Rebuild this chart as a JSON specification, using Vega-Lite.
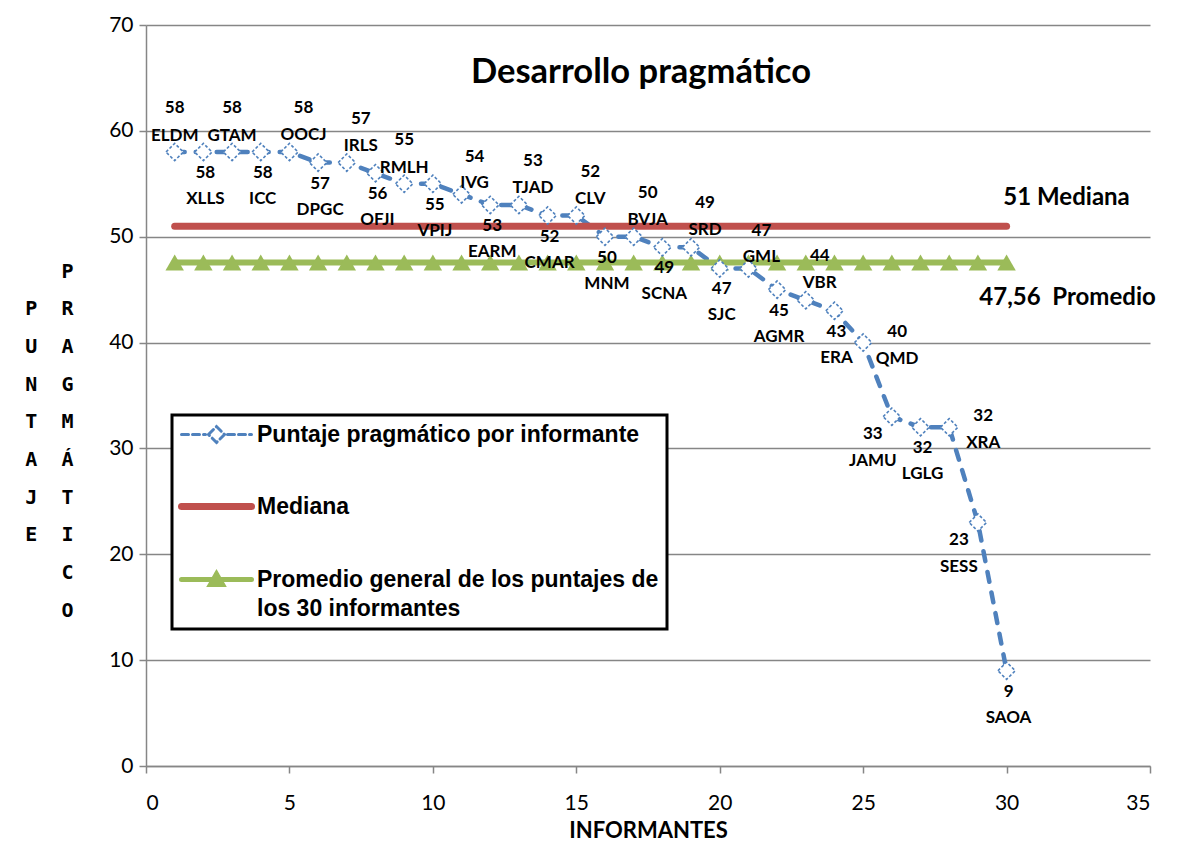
{
  "$schema": "https://vega.github.io/schema/vega-lite/v6.json",
  "width": 1004,
  "height": 741,
  "autosize": {"type": "none"},
  "padding": {"left": 146, "top": 25, "right": 31, "bottom": 88},
  "background": "white",
  "config": {"view": {"stroke": null}, "font": "Lato"},
  "title": {
    "text": "Desarrollo pragmático",
    "anchor": "middle",
    "frame": "group",
    "font": "Lato",
    "fontSize": 34.5,
    "fontWeight": "bold",
    "color": "black",
    "baseline": "alphabetic",
    "offset": -59,
    "dx": -7,
    "dy": 44
  },
  "datasets": {
    "informantes": [
      {"i": 1, "puntaje": 58, "nombre": "ELDM", "lado": "arriba"},
      {"i": 2, "puntaje": 58, "nombre": "XLLS", "lado": "abajo"},
      {"i": 3, "puntaje": 58, "nombre": "GTAM", "lado": "arriba"},
      {"i": 4, "puntaje": 58, "nombre": "ICC", "lado": "abajo"},
      {"i": 5, "puntaje": 58, "nombre": "OOCJ", "lado": "arribader"},
      {"i": 6, "puntaje": 57, "nombre": "DPGC", "lado": "abajo"},
      {"i": 7, "puntaje": 57, "nombre": "IRLS", "lado": "arribader"},
      {"i": 8, "puntaje": 56, "nombre": "OFJI", "lado": "abajo"},
      {"i": 9, "puntaje": 55, "nombre": "RMLH", "lado": "arriba"},
      {"i": 10, "puntaje": 55, "nombre": "VPIJ", "lado": "abajo"},
      {"i": 11, "puntaje": 54, "nombre": "IVG", "lado": "arribacerca"},
      {"i": 12, "puntaje": 53, "nombre": "EARM", "lado": "abajo"},
      {"i": 13, "puntaje": 53, "nombre": "TJAD", "lado": "arribader"},
      {"i": 14, "puntaje": 52, "nombre": "CMAR", "lado": "abajo"},
      {"i": 15, "puntaje": 52, "nombre": "CLV", "lado": "arribader"},
      {"i": 16, "puntaje": 50, "nombre": "MNM", "lado": "abajo"},
      {"i": 17, "puntaje": 50, "nombre": "BVJA", "lado": "arribader"},
      {"i": 18, "puntaje": 49, "nombre": "SCNA", "lado": "abajo"},
      {"i": 19, "puntaje": 49, "nombre": "SRD", "lado": "arribader"},
      {"i": 20, "puntaje": 47, "nombre": "SJC", "lado": "abajo"},
      {"i": 21, "puntaje": 47, "nombre": "GML", "lado": "arribacerca"},
      {"i": 22, "puntaje": 45, "nombre": "AGMR", "lado": "abajo"},
      {"i": 23, "puntaje": 44, "nombre": "VBR", "lado": "arribader"},
      {"i": 24, "puntaje": 43, "nombre": "ERA", "lado": "abajo"},
      {"i": 25, "puntaje": 40, "nombre": "QMD", "lado": "derecha"},
      {"i": 26, "puntaje": 33, "nombre": "JAMU", "lado": "abajoizq"},
      {"i": 27, "puntaje": 32, "nombre": "LGLG", "lado": "abajo"},
      {"i": 28, "puntaje": 32, "nombre": "XRA", "lado": "derecha"},
      {"i": 29, "puntaje": 23, "nombre": "SESS", "lado": "abajoizq"},
      {"i": 30, "puntaje": 9, "nombre": "SAOA", "lado": "abajo"}
    ],
    "notas": [
      {"nota": "51 Mediana", "valor": 51, "informante": 30, "tipo": "mediana"},
      {"nota": "47,56\u00a0 Promedio", "valor": 47.56, "informante": 30, "tipo": "promedio"}
    ]
  },
  "encoding": {
    "x": {
      "field": "i",
      "type": "quantitative",
      "scale": {"domain": [0, 35], "nice": false, "zero": false},
      "axis": {
        "values": [0, 5, 10, 15, 20, 25, 30, 35],
        "grid": false,
        "domainColor": "#868686",
        "domainWidth": 1.5,
        "tickColor": "#868686",
        "tickWidth": 1.5,
        "tickSize": 7,
        "labelFont": "Lato",
        "labelFontSize": 21,
        "labelColor": "black",
        "labelPadding": 19,
        "title": "INFORMANTES",
        "titleFont": "Lato",
        "titleFontSize": 22,
        "titleFontWeight": "bold",
        "titleColor": "black",
        "titlePadding": 7
      }
    },
    "y": {
      "field": "puntaje",
      "type": "quantitative",
      "scale": {"domain": [0, 70], "nice": false},
      "axis": {
        "values": [0, 10, 20, 30, 40, 50, 60, 70],
        "grid": true,
        "gridColor": "#868686",
        "gridWidth": 1.5,
        "domainColor": "#868686",
        "domainWidth": 1.5,
        "tickColor": "#868686",
        "tickWidth": 1.5,
        "tickSize": 7,
        "labelFont": "Lato",
        "labelFontSize": 21,
        "labelColor": "black",
        "labelPadding": 6,
        "title": ["P", "P\u00a0\u00a0R", "U\u00a0\u00a0A", "N\u00a0\u00a0G", "T\u00a0\u00a0M", "A\u00a0\u00a0Á", "J\u00a0\u00a0T", "E\u00a0\u00a0I", "C", "O"],
        "titleFont": "DejaVu Sans Mono",
        "titleFontSize": 20,
        "titleFontWeight": "bold",
        "titleColor": "black",
        "titleAngle": 0,
        "titleAlign": "right",
        "titleBaseline": "top",
        "titleLineHeight": 37.7,
        "titleX": -73,
        "titleY": 236
      }
    }
  },
  "layer": [
    {
      "data": {"name": "informantes"},
      "mark": {"type": "line", "strokeWidth": 4.5, "strokeDash": [10, 11], "strokeCap": "round"},
      "encoding": {
        "color": {
          "datum": "Puntaje pragmático por informante",
          "type": "nominal",
          "scale": {
            "domain": ["Puntaje pragmático por informante", "Mediana", "Promedio general de los puntajes de los 30 informantes"],
            "range": ["#4F81BD", "#C0504D", "#9BBB59"]
          },
          "legend": {
            "orient": "none",
            "legendX": 26,
            "legendY": 390,
            "title": null,
            "padding": 8,
            "strokeColor": "black",
            "fillColor": "white",
            "symbolSize": 400,
            "symbolOffset": 25,
            "labelOffset": 29,
            "labelFont": "Liberation Sans",
            "labelFontWeight": "bold",
            "labelFontSize": 23,
            "labelColor": "black",
            "labelLimit": 700,
            "rowPadding": 43,
            "labelExpr": "datum.label == 'Promedio general de los puntajes de los 30 informantes' ? ['Promedio general de los puntajes de', 'los 30 informantes'] : datum.label",
            "encode": {
              "legend": {"update": {"strokeWidth": {"value": 3}}},
              "symbols": {
                "update": {
                  "shape": {"signal": "datum.value === 'Mediana' ? 'M-3.5,0H3.5' : datum.value === 'Puntaje pragmático por informante' ? 'M-3.5,0H-1.1M-0.8,0L0,-0.8L0.8,0L0,0.8ZM1.1,0H3.5' : 'M-3.5,0H3.5M-0.6,0.5L0,-0.55L0.6,0.5Z'"},
                  "fill": {"signal": "datum.value === 'Puntaje pragmático por informante' ? 'white' : datum.value === 'Mediana' ? 'transparent' : '#9BBB59'"},
                  "fillOpacity": {"signal": "datum.value === 'Puntaje pragmático por informante' ? 0 : 1"},
                  "stroke": {"signal": "datum.value === 'Mediana' ? '#C0504D' : datum.value === 'Puntaje pragmático por informante' ? '#4F81BD' : '#9BBB59'"},
                  "strokeWidth": {"signal": "datum.value === 'Mediana' ? 7 : datum.value === 'Puntaje pragmático por informante' ? 3 : 5"},
                  "strokeDash": {"signal": "datum.value === 'Puntaje pragmático por informante' ? [7, 4] : [1, 0]"},
                  "strokeCap": {"value": "round"},
                  "opacity": {"value": 1}
                }
              },
              "labels": {
                "update": {
                  "lineHeight": {"value": 29}
                }
              }
            }
          }
        }
      }
    },
    {
      "data": {"name": "informantes"},
      "transform": [{"joinaggregate": [{"op": "median", "field": "puntaje", "as": "mediana"}]}],
      "mark": {"type": "line", "strokeWidth": 7, "strokeCap": "round"},
      "encoding": {
        "y": {"field": "mediana", "type": "quantitative"},
        "color": {"datum": "Mediana", "type": "nominal"}
      }
    },
    {
      "data": {"name": "informantes"},
      "transform": [{"joinaggregate": [{"op": "mean", "field": "puntaje", "as": "promedio"}]}],
      "mark": {"type": "line", "strokeWidth": 6, "point": {"shape": "triangle-up", "size": 340, "filled": true, "color": "#9BBB59", "opacity": 1}},
      "encoding": {
        "y": {"field": "promedio", "type": "quantitative"},
        "color": {"datum": "Promedio general de los puntajes de los 30 informantes", "type": "nominal"}
      }
    },
    {
      "data": {"name": "informantes"},
      "mark": {"type": "point", "shape": "diamond", "size": 300, "filled": true, "fill": "white", "stroke": "#4F81BD", "strokeWidth": 1.6, "strokeDash": [3, 2], "opacity": 1}
    },
    {
      "data": {"name": "informantes"},
      "transform": [{"filter": "datum.lado === 'arriba'"}],
      "layer": [
        {"mark": {"type": "text", "font": "Lato", "fontSize": 17, "fontWeight": "bold", "color": "black", "dy": -44}, "encoding": {"text": {"field": "puntaje", "type": "quantitative"}}},
        {"mark": {"type": "text", "font": "Lato", "fontSize": 17, "fontWeight": "bold", "color": "black", "dy": -16}, "encoding": {"text": {"field": "nombre", "type": "nominal"}}}
      ]
    },
    {
      "data": {"name": "informantes"},
      "transform": [{"filter": "datum.lado === 'arribader'"}],
      "layer": [
        {"mark": {"type": "text", "font": "Lato", "fontSize": 17, "fontWeight": "bold", "color": "black", "dx": 14, "dy": -44}, "encoding": {"text": {"field": "puntaje", "type": "quantitative"}}},
        {"mark": {"type": "text", "font": "Lato", "fontSize": 17, "fontWeight": "bold", "color": "black", "dx": 14, "dy": -17}, "encoding": {"text": {"field": "nombre", "type": "nominal"}}}
      ]
    },
    {
      "data": {"name": "informantes"},
      "transform": [{"filter": "datum.lado === 'arribacerca'"}],
      "layer": [
        {"mark": {"type": "text", "font": "Lato", "fontSize": 17, "fontWeight": "bold", "color": "black", "dx": 13, "dy": -37}, "encoding": {"text": {"field": "puntaje", "type": "quantitative"}}},
        {"mark": {"type": "text", "font": "Lato", "fontSize": 17, "fontWeight": "bold", "color": "black", "dx": 13, "dy": -11}, "encoding": {"text": {"field": "nombre", "type": "nominal"}}}
      ]
    },
    {
      "data": {"name": "informantes"},
      "transform": [{"filter": "datum.lado === 'abajo'"}],
      "layer": [
        {"mark": {"type": "text", "font": "Lato", "fontSize": 17, "fontWeight": "bold", "color": "black", "dx": 2, "dy": 21}, "encoding": {"text": {"field": "puntaje", "type": "quantitative"}}},
        {"mark": {"type": "text", "font": "Lato", "fontSize": 17, "fontWeight": "bold", "color": "black", "dx": 2, "dy": 47}, "encoding": {"text": {"field": "nombre", "type": "nominal"}}}
      ]
    },
    {
      "data": {"name": "informantes"},
      "transform": [{"filter": "datum.lado === 'derecha'"}],
      "layer": [
        {"mark": {"type": "text", "font": "Lato", "fontSize": 17, "fontWeight": "bold", "color": "black", "dx": 34, "dy": -11}, "encoding": {"text": {"field": "puntaje", "type": "quantitative"}}},
        {"mark": {"type": "text", "font": "Lato", "fontSize": 17, "fontWeight": "bold", "color": "black", "dx": 34, "dy": 16}, "encoding": {"text": {"field": "nombre", "type": "nominal"}}}
      ]
    },
    {
      "data": {"name": "informantes"},
      "transform": [{"filter": "datum.lado === 'abajoizq'"}],
      "layer": [
        {"mark": {"type": "text", "font": "Lato", "fontSize": 17, "fontWeight": "bold", "color": "black", "dx": -19, "dy": 17}, "encoding": {"text": {"field": "puntaje", "type": "quantitative"}}},
        {"mark": {"type": "text", "font": "Lato", "fontSize": 17, "fontWeight": "bold", "color": "black", "dx": -19, "dy": 44}, "encoding": {"text": {"field": "nombre", "type": "nominal"}}}
      ]
    },
    {
      "data": {"name": "notas"},
      "transform": [{"filter": "datum.tipo === 'mediana'"}],
      "mark": {"type": "text", "font": "Lato", "fontSize": 24, "fontWeight": "bold", "color": "black", "dx": 60, "dy": -28},
      "encoding": {
        "x": {"field": "informante", "type": "quantitative"},
        "y": {"field": "valor", "type": "quantitative"},
        "text": {"field": "nota", "type": "nominal"}
      }
    },
    {
      "data": {"name": "notas"},
      "transform": [{"filter": "datum.tipo === 'promedio'"}],
      "mark": {"type": "text", "font": "Lato", "fontSize": 24, "fontWeight": "bold", "color": "black", "dx": 61, "dy": 35},
      "encoding": {
        "x": {"field": "informante", "type": "quantitative"},
        "y": {"field": "valor", "type": "quantitative"},
        "text": {"field": "nota", "type": "nominal"}
      }
    }
  ]
}
